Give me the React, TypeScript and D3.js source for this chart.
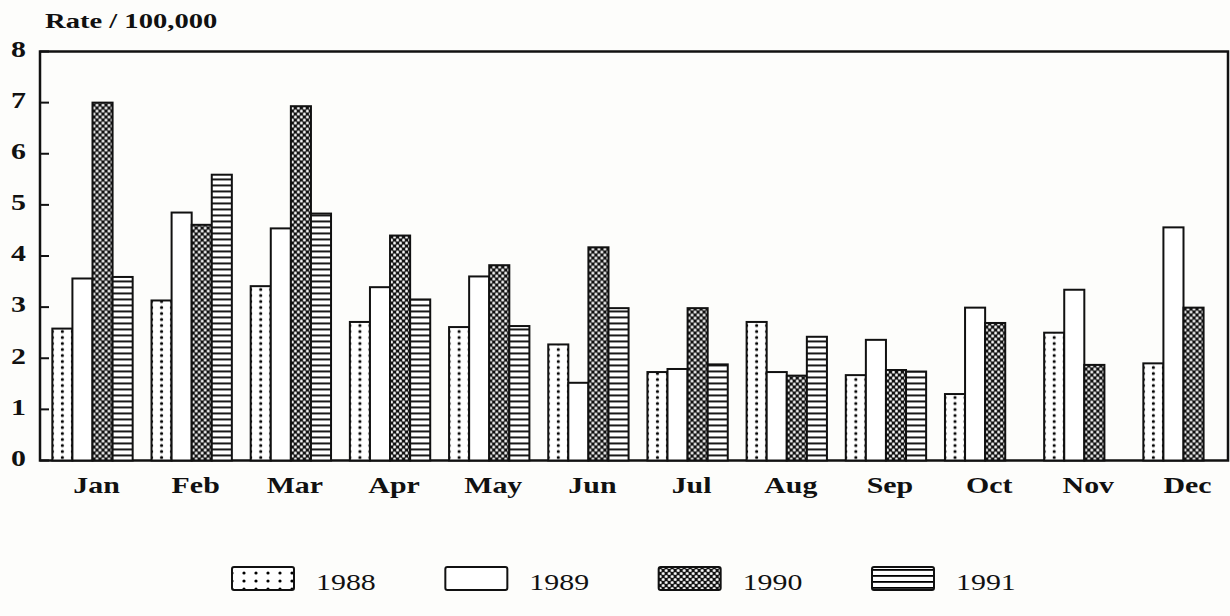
import * as d3 from 'd3';
import React from 'react';

// monthly rates per 100,000
const months = ['Jan', 'Feb', 'Mar', 'Apr', 'May', 'Jun', 'Jul', 'Aug', 'Sep', 'Oct', 'Nov', 'Dec'];
const years = ['1988', '1989', '1990', '1991'];
const rate1988 = [2.58, 3.13, 3.41, 2.71, 2.61, 2.27, 1.73, 2.71, 1.67, 1.3, 2.5, 1.9];
const rate1989 = [3.56, 4.85, 4.54, 3.39, 3.6, 1.52, 1.79, 1.73, 2.36, 2.99, 3.34, 4.56];
const rate1990 = [7.0, 4.61, 6.93, 4.4, 3.82, 4.17, 2.98, 1.66, 1.77, 2.69, 1.87, 2.99];
const rate1991 = [3.59, 5.59, 4.83, 3.15, 2.63, 2.98, 1.88, 2.42, 1.74, null, null, null];
const yTicks = [0, 1, 2, 3, 4, 5, 6, 7, 8];

const series = [rate1988, rate1989, rate1990, rate1991];

const width = 1230;
const height = 616;
const font = '"Liberation Serif", "Times New Roman", serif';
const stretch = 'scale(1.3,1)';

// one pattern per bar so the texture lines up with the bar edges
const Fill = ({ id, kind, x0, w, y0, rowH = 6 }) => {
  if (kind === 0) {
    const pw = w / 2;
    return (
      <pattern id={id} patternUnits="userSpaceOnUse" x={x0 + w / 2 - pw / 2} y={y0} width={pw} height={rowH}>
        <rect width={pw} height={rowH} fill="white" />
        <circle cx={pw / 2} cy={rowH / 2} r={1.6} fill="black" />
      </pattern>
    );
  }
  if (kind === 2) {
    return (
      <pattern id={id} patternUnits="userSpaceOnUse" x={x0} y={y0} width={6} height={6}>
        <rect width={6} height={6} fill="#111" />
        <circle cx={1.5} cy={1.5} r={1.5} fill="white" />
        <circle cx={4.5} cy={4.5} r={1.5} fill="white" />
      </pattern>
    );
  }
  if (kind === 3) {
    return (
      <pattern id={id} patternUnits="userSpaceOnUse" x={x0} y={y0} width={8} height={6}>
        <rect width={8} height={6} fill="white" />
        <rect width={8} height={1.8} fill="black" />
      </pattern>
    );
  }
  return null;
};

const App = () => {
  const x = d3.scaleBand(months, [44, 1232]).paddingInner(0.19).paddingOuter(0.084);
  const xs = d3.scaleBand(years, [0, x.bandwidth()]);
  const y = d3.scaleLinear([0, 8], [460.5, 51.5]);
  const bw = xs.bandwidth();

  const left = 40;
  const right = 1228;

  const legendX = d3.scalePoint(years, [232, 872]);
  const swW = 62;
  const swH = 23;
  const swY = 567;

  const bars = [];
  const defs = [];
  series.forEach((vals, si) => {
    vals.forEach((v, mi) => {
      if (v == null) return;
      const bx = x(months[mi]) + xs(years[si]);
      const id = `p${si}-${mi}`;
      if (si !== 1) defs.push(<Fill key={id} id={id} kind={si} x0={bx} w={bw} y0={y(0)} />);
      bars.push(
        <rect
          key={`b${si}-${mi}`}
          x={bx}
          y={y(v)}
          width={bw}
          height={y(0) - y(v)}
          fill={si === 1 ? 'white' : `url(#${id})`}
          stroke="#111"
          strokeWidth={2}
        />
      );
    });
  });

  years.forEach((yr, i) => {
    const id = `lg${i}`;
    if (i !== 1) defs.push(<Fill key={id} id={id} kind={i} x0={legendX(yr)} w={24} y0={swY + 2} rowH={8} />);
  });

  return (
    <svg width={width} height={height} style={{ position: 'absolute', left: 0, top: 0, background: '#fdfdfb' }}>
      <defs>{defs}</defs>

      <text
        transform={`translate(45,28) ${stretch}`}
        fontFamily={font}
        fontWeight="bold"
        fontSize={22}
        fill="#111"
      >
        Rate / 100,000
      </text>

      {/* frame */}
      <rect x={left} y={y(8)} width={right - left} height={y(0) - y(8)} fill="none" stroke="#111" strokeWidth={2.5} />

      {/* y ticks */}
      {yTicks.map((t) => (
        <g key={t}>
          <line x1={left} x2={left + 9} y1={y(t)} y2={y(t)} stroke="#111" strokeWidth={2} />
          <text
            transform={`translate(26,${y(t)}) ${stretch}`}
            textAnchor="end"
            dominantBaseline="middle"
            fontFamily={font}
            fontWeight="bold"
            fontSize={23}
            fill="#111"
          >
            {t}
          </text>
        </g>
      ))}

      {bars}

      {/* month labels */}
      {months.map((m) => (
        <text
          key={m}
          transform={`translate(${x(m) + x.bandwidth() / 2 + 4},493) ${stretch}`}
          textAnchor="middle"
          fontFamily={font}
          fontWeight="bold"
          fontSize={23}
          fill="#111"
        >
          {m}
        </text>
      ))}

      {/* legend */}
      {years.map((yr, i) => (
        <g key={yr}>
          <rect
            x={legendX(yr)}
            y={swY}
            width={swW}
            height={swH}
            rx={2}
            fill={i === 1 ? 'white' : `url(#lg${i})`}
            stroke="#111"
            strokeWidth={2}
          />
          <text
            transform={`translate(${legendX(yr) + 84},${swY + swH}) ${stretch}`}
            fontFamily={font}
            fontSize={23}
            fill="#111"
          >
            {yr}
          </text>
        </g>
      ))}
    </svg>
  );
};

export default App;
